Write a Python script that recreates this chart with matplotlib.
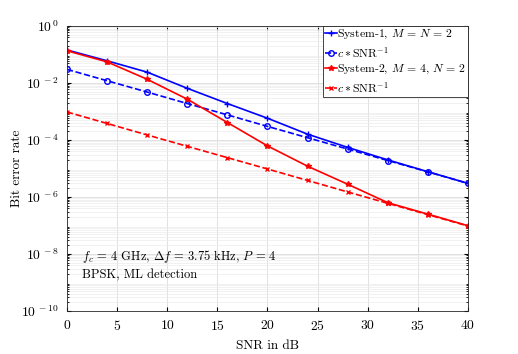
import matplotlib
matplotlib.use("Agg")
from matplotlib import pyplot as plt
from matplotlib.ticker import LogLocator, NullFormatter

plt.rcParams["font.family"] = "serif"
plt.rcParams["font.serif"] = ["cmr10", "DejaVu Serif"]
plt.rcParams["mathtext.fontset"] = "cm"
plt.rcParams["axes.formatter.use_mathtext"] = True

snr = [0, 4, 8, 12, 16, 20, 24, 28, 32, 36, 40]

# System-1, M = N = 2
ber_sys1 = [0.144, 0.06, 0.024, 6.5e-3, 1.9e-3, 5.8e-4, 1.6e-4, 5.5e-5, 2.0e-5, 7.7e-6, 3.0e-6]
# c * SNR^-1 (system 1)
ber_sys1_ref = [0.030, 0.012, 4.8e-3, 1.9e-3, 7.6e-4, 3.0e-4, 1.2e-4, 4.8e-5, 1.9e-5, 7.6e-6, 3.0e-6]
# System-2, M = 4, N = 2
ber_sys2 = [0.135, 0.055, 0.0135, 2.7e-3, 4.1e-4, 6.2e-5, 1.2e-5, 2.8e-6, 6.3e-7, 2.5e-7, 9.8e-8]
# c * SNR^-1 (system 2)
ber_sys2_ref = [9.6e-4, 3.8e-4, 1.5e-4, 6.0e-5, 2.4e-5, 9.6e-6, 3.8e-6, 1.5e-6, 6.0e-7, 2.4e-7, 9.6e-8]

yticks = [1e-10, 1e-8, 1e-6, 1e-4, 1e-2, 1]
ytick_labels = [r"$10^{\,-10}$", r"$10^{\,-8}$", r"$10^{\,-6}$", r"$10^{\,-4}$", r"$10^{\,-2}$", r"$10^{\,0}$"]

labels = [
    r"System-1, $M\,=\,N\,=\,2$",
    r"$c*\mathrm{SNR}^{-1}$",
    r"System-2, $M\,=\,4$, $N\,=\,2$",
    r"$c*\mathrm{SNR}^{-1}$",
]

fig = plt.figure(figsize=(5.18, 3.54), dpi=100)
ax = fig.add_axes([0.1293, 0.1215, 0.7742, 0.8051])

ax.semilogy(snr, ber_sys1, "-", color="#0000ff", marker="+", ms=5, lw=1.2, label=labels[0])
ax.semilogy(snr, ber_sys1_ref, "--", color="#0000ff", marker="o", ms=4, mfc="none", lw=1.2, label=labels[1])
ax.semilogy(snr, ber_sys2, "-", color="#ff0000", marker="*", ms=4, lw=1.2, label=labels[2])
ax.semilogy(snr, ber_sys2_ref, "--", color="#ff0000", marker="x", ms=3.5, lw=1.2, label=labels[3])

ax.set_xlim(0, 40)
ax.set_ylim(1e-10, 1)
ax.set_xticks([0, 5, 10, 15, 20, 25, 30, 35, 40])
ax.set_yticks(yticks, ytick_labels)
ax.yaxis.set_minor_locator(LogLocator(base=10, subs=range(2, 10), numticks=20))
ax.yaxis.set_minor_formatter(NullFormatter())

ax.grid(True, which="major", color="#dcdcdc", lw=0.6)
ax.grid(True, which="minor", axis="y", color="#ececec", lw=0.5)
ax.tick_params(which="both", direction="in", top=True, right=True, labelsize=9.8)
ax.tick_params(which="major", length=3)
ax.tick_params(which="minor", length=1.5)
ax.tick_params(axis="x", pad=6)
ax.tick_params(axis="y", pad=6)
for s in ax.spines.values():
    s.set_linewidth(0.6)
    s.set_color("#262626")

ax.set_xlabel("SNR in dB", fontsize=9.5, labelpad=5)
ax.set_ylabel("Bit error rate", fontsize=9.5)
ax.yaxis.set_label_coords(-0.11, 0.5)

ax.text(1.5, 4.3e-9, "$f_c\\,=\\,4$ GHz, $\\Delta f\\,=\\,3.75$ kHz, $P\\,=\\,4$\nBPSK, ML detection",
        fontsize=9, va="center", ha="left", linespacing=1.45)

leg = ax.legend(loc="upper right", fontsize=8.5, handlelength=1.0, handletextpad=0.05,
                borderpad=0.15, labelspacing=0.3, borderaxespad=0.0, fancybox=False,
                framealpha=1)
leg.get_frame().set_edgecolor("#262626")
leg.get_frame().set_linewidth(0.6)

fig.savefig("out.png", dpi=100)
plt.close()
